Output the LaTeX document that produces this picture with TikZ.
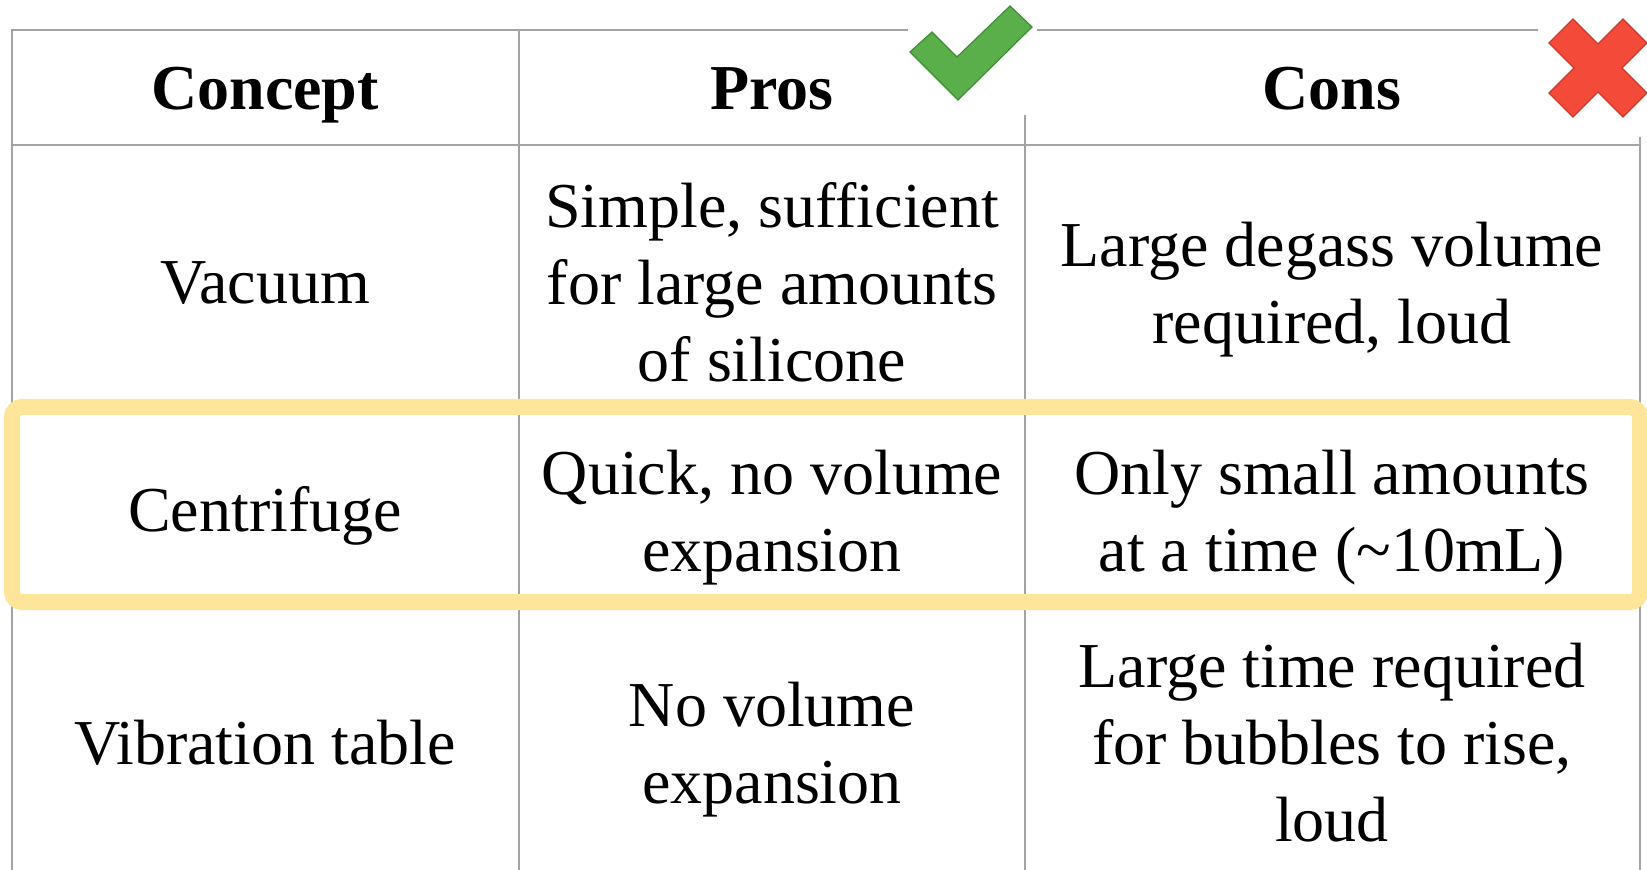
\documentclass[tikz,border=0pt]{standalone}
\usepackage{fontspec}
\setmainfont{Liberation Serif}
\definecolor{gridgray}{HTML}{A3A3A3}
\definecolor{hiyellow}{HTML}{FFE599}
\definecolor{okgreen}{HTML}{5BAF4A}
\definecolor{okedge}{HTML}{3F8C37}
\definecolor{nored}{HTML}{F44A3A}
\definecolor{noedge}{HTML}{C93A2C}
\tikzset{
  gridline/.style={draw=gridgray, line width=1.1pt},
  highlight/.style={draw=hiyellow, line width=8pt, rounded corners=5pt},
  cell/.style={inner sep=0pt, align=center,
    font=\fontsize{32}{38.5}\selectfont,
    execute at begin node=\strut, execute at end node=\strut},
  headcell/.style={cell, font=\fontsize{32}{38.5}\selectfont\bfseries},
}
\begin{document}
\begin{tikzpicture}[x=0.5pt, y=-0.5pt]
\useasboundingbox (0,0) rectangle (1647,870);

% table rules
\draw[gridline] (12,870) -- (12,30) -- (908,30);
\draw[gridline] (1037,30) -- (1538,30);
\draw[gridline] (519,30) -- (519,870);
\draw[gridline] (1025,115) -- (1025,870);
\draw[gridline] (1640,137) -- (1640,870);
\draw[gridline] (12,145) -- (1640,145);
\draw[gridline] (12,407) -- (1640,407);
\draw[gridline] (12,602) -- (1640,602);

% highlighted row
\draw[highlight] (12,407) rectangle (1640,602);

% header
\node[headcell] (hconcept) at (265,94.6) {Concept};
\node[headcell] (hpros)    at (772,94.6) {Pros};
\node[headcell] (hcons)    at (1332,94.6) {Cons};

% row: vacuum
\node[cell] (c1) at (265,288.6) {Vacuum};
\node[cell] (p1) at (772,294) {Simple, sufficient\\for large amounts\\of silicone};
\node[cell] (n1) at (1332,294) {Large degass volume\\required, loud};

% row: centrifuge
\node[cell] (c2) at (265,516.6) {Centrifuge};
\node[cell] (p2) at (772,522) {Quick, no volume\\expansion};
\node[cell] (n2) at (1332,522) {Only small amounts\\at a time (\textasciitilde10mL)};

% row: vibration table
\node[cell] (c3) at (265,748.6) {Vibration table};
\node[cell] (p3) at (772,754) {No volume\\expansion};
\node[cell] (n3) at (1332,754) {Large time required\\for bubbles to rise,\\loud};

% check mark
\filldraw[fill=okgreen, draw=okedge, line width=0.6pt, line join=miter]
  (910,52) -- (932,32) -- (957,57) -- (1010,6) -- (1032,27) -- (958,100) -- cycle;

% cross mark
\filldraw[fill=nored, draw=noedge, line width=0.6pt, line join=miter]
  (1549,43) -- (1573,19) -- (1598,44) -- (1623,19) -- (1647,43) -- (1622,68)
  -- (1647,93) -- (1623,117) -- (1598,92) -- (1573,117) -- (1549,93) -- (1574,68) -- cycle;
\end{tikzpicture}
\end{document}
